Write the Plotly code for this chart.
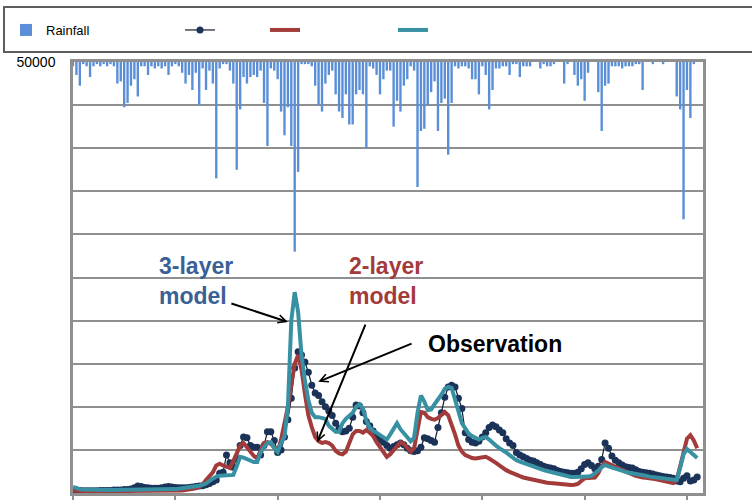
import plotly.graph_objects as go

# ---- data (day index from start of record) ----
days = list(range(184))

rainfall_mm = [
    2, 6, 11, 1, 2, 7, 2, 1, 2, 1,
    2, 1, 2, 10, 9, 21, 19, 11, 8, 16,
    2, 2, 6, 2, 3, 2, 3, 2, 6, 2,
    1, 2, 5, 10, 6, 13, 5, 20, 3, 13,
    4, 10, 54, 3, 1, 1, 4, 10, 50, 22,
    7, 10, 7, 6, 7, 4, 19, 39, 3, 4,
    8, 23, 34, 21, 39, 88, 51, 1, 1, 1,
    2, 11, 20, 23, 10, 6, 4, 15, 23, 26,
    15, 29, 29, 15, 13, 15, 40, 2, 3, 6,
    15, 8, 4, 4, 30, 18, 23, 11, 8, 2,
    4, 58, 32, 31, 20, 14, 9, 32, 19, 17,
    43, 19, 2, 3, 2, 2, 3, 8, 8, 15,
    2, 6, 22, 13, 3, 3, 2, 2, 6, 1,
    1, 7, 2, 2, 2, 0, 0, 3, 1, 2,
    2, 1, 0, 0, 10, 1, 0, 6, 11, 8,
    18, 5, 0, 0, 14, 32, 11, 10, 2, 2,
    2, 3, 2, 2, 2, 1, 1, 13, 0, 0,
    1, 0, 0, 1, 0, 0, 0, 16, 22, 73,
    13, 26, 1, 0,
]

observation = [
    250, 350, 300, 250, 250, 250, 250, 250, 300, 300,
    300, 300, 350, 350, 350, 400, 400, 450, 600, 800,
    750, 650, 600, 550, 550, 550, 600, 700, 750, 700,
    650, 600, 600, 600, 650, 700, 750, 800, 850, 950,
    1100, 1300, 1500, 2300, 2400, 4400, 3500, 3000, 4000, 5500,
    6500, 6400, 5500, 5300, 5300, 4400, 5500, 7100, 7100, 6100,
    4700, 5000, 6500, 8500, 11000, 14500, 16400, 16000, 15200, 14000,
    12500, 11600, 11300, 10600, 10000, 9500, 9000, 8100, 7500, 7100,
    7200, 7500, 8800, 10200, 10100, 9300, 8300, 7800, 7200, 6500,
    6200, 5900, 5500, 5200, 5400, 5600, 5800, 5600, 5200, 4900,
    4800, 4900, 5300, 6400, 6300, 6100, 5900, 7600, 9300, 11100,
    12300, 12500, 12300, 11000, 9800, 7000, 6200, 5900, 5800, 6000,
    6500, 7000, 7600, 7900, 7700, 7300, 7000, 6300, 5800, 5500,
    4700, 4400, 4200, 4000, 3800, 3700, 3500, 3300, 3100, 3000,
    2900, 2800, 2600, 2500, 2400, 2350, 2300, 2300, 2400, 2800,
    3300, 3500, 3200, 2800, 3100, 3900, 5800, 5200, 4300, 3800,
    3500, 3250, 3050, 2950, 2900, 2700, 2500, 2400, 2350, 2300,
    2200, 2100, 2000, 1900, 1850, 1800, 1700, 1400, 1300, 1700,
    2000, 1400, 1500, 1850,
]

two_layer = [
    300, 250, 200, 200, 200, 200, 200, 200, 200, 200,
    200, 200, 200, 200, 200, 200, 200, 200, 200, 200,
    250, 250, 250, 250, 250, 250, 250, 250, 250, 250,
    300, 300, 300, 350, 400, 450, 550, 700, 1000, 1500,
    2000, 2400, 3200, 3400, 3200, 3100, 2900, 3700, 4600, 5500,
    5800, 5300, 4800, 4300, 4000, 5000, 5800, 5900, 5700, 5300,
    4750, 6200, 8000, 10000, 12500, 15000, 16000, 14300, 11500, 9000,
    7650, 6500, 6000, 5800, 5900, 5800, 5500, 4900, 4600, 4500,
    4800, 5800, 6800, 7200, 7200, 7000, 7300, 7000, 6600, 5900,
    5300, 4700, 4200, 4500, 5000, 5400, 5900, 5700, 5300, 4800,
    5200, 7300, 9400, 9300, 8800, 8600, 8500, 8700, 9000, 9400,
    9000, 8000, 6800, 5500, 4800, 4400, 4200, 4050, 4000, 4050,
    4150, 4200, 4000, 3800, 3500, 3200, 2900, 2650, 2450, 2250,
    2100, 1950, 1800, 1700, 1600, 1500, 1450, 1350, 1300, 1200,
    1150, 1100, 1050, 1000, 950, 930, 930, 950, 1050, 1400,
    1700, 1750, 1750, 1800, 2300, 3100, 3600, 3450, 3250, 3050,
    2850, 2650, 2450, 2300, 2150, 2000, 1860, 1800, 1780, 1750,
    1700, 1600, 1500, 1400, 1300, 1200, 1160, 1500, 3200, 4800,
    6300, 6700, 6100, 5200,
]

three_layer = [
    700, 550, 450, 400, 380, 350, 350, 350, 350, 350,
    350, 350, 350, 350, 350, 350, 350, 350, 350, 350,
    350, 400, 400, 400, 400, 400, 400, 400, 400, 400,
    450, 500, 550, 580, 620, 680, 750, 850, 950, 1100,
    1400, 1700, 1900, 2000, 2000, 2000, 2000, 2100, 3100, 4200,
    4100, 3900, 3800, 3600, 3600, 4700, 5300, 5800, 5900, 5200,
    4750, 5800, 6500, 10000, 20000, 23300, 21000, 16000, 13000, 10800,
    9300, 8800, 8800, 8700, 8600, 7800, 7500, 7100, 7100, 8100,
    8600, 9000, 9300, 10000, 10300, 9800, 8400, 7600, 7200, 7000,
    6700, 6400, 6200, 6800, 7500, 8100, 7400, 6900, 6500, 6000,
    6400, 9300, 11300, 10600, 9600, 9700, 10300, 10800, 11400, 12100,
    12300, 12200, 11000, 9500, 8100, 7400, 6900, 6600, 6400, 6200,
    6400, 6500, 6200, 5800, 5500, 5200, 5000, 4700, 4400, 4100,
    3800, 3650, 3500, 3300, 3150, 3000, 2900, 2800, 2650, 2550,
    2450, 2350, 2250, 2100, 2000, 1900, 1850, 1850, 1850, 1850,
    1850, 1900, 2000, 2250, 2600, 3000, 3250, 3100, 2950, 2800,
    2650, 2550, 2450, 2350, 2300, 2200, 2150, 2100, 2000, 1900,
    1850, 1800, 1750, 1700, 1600, 1550, 1500, 1500, 2900, 4500,
    5100, 4800, 4400, 4050,
]

y_ticks = [0, 5000, 10000, 15000, 20000, 25000, 30000, 35000, 40000, 45000, 50000]
y_tick_text = ["", "", "", "", "", "", "", "", "", "", "50000"]
x_ticks = [0, 30, 60, 90, 120, 150, 180]

# ---- figure ----
W, H = 752, 500
ML, MR, MT, MB = 73, 49, 62, 7
PW, PH = W - ML - MR, H - MT - MB


def px_x(p):
    return (p - ML) / PW


def px_y(p):
    return (H - MB - p) / PH


GRID = "#8f8f8f"
fig = go.Figure()

fig.add_trace(go.Bar(
    x=days, y=rainfall_mm, yaxis="y2", name="Rainfall",
    marker=dict(color="#5A8FD8", line=dict(width=0)),
    legend="legend",
))
fig.add_trace(go.Scatter(
    x=days, y=observation, name="", mode="lines+markers",
    line=dict(color="#111a2c", width=1.2),
    marker=dict(color="#1b3358", size=7, line=dict(width=0)),
    legend="legend2",
))
fig.add_trace(go.Scatter(
    x=days, y=two_layer, name="", mode="lines",
    line=dict(color="#a33b3b", width=4),
    legend="legend3",
))
fig.add_trace(go.Scatter(
    x=days, y=three_layer, name="", mode="lines",
    line=dict(color="#3890a3", width=4),
    legend="legend4",
))

leg_font = dict(family="Liberation Sans Narrow, Arial Narrow, Liberation Sans, Arial", size=13, color="#000")
leg_y = px_y(30)
common_leg = dict(orientation="h", yanchor="middle", y=leg_y, xanchor="left",
                  bgcolor="rgba(0,0,0,0)", borderwidth=0, font=leg_font)

fig.update_layout(
    width=W, height=H,
    margin=dict(l=ML, r=MR, t=MT, b=MB, pad=0, autoexpand=False),
    paper_bgcolor="white", plot_bgcolor="white",
    font=dict(family="Liberation Sans, Arial", color="#000"),
    bargap=0.3,
    showlegend=True,
    legend=dict(common_leg, x=px_x(6)),
    legend2=dict(common_leg, x=px_x(180)),
    legend3=dict(common_leg, x=px_x(265)),
    legend4=dict(common_leg, x=px_x(393)),
    xaxis=dict(
        range=[0, 184.7], tickvals=x_ticks, showticklabels=False,
        ticks="outside", ticklen=6, tickwidth=2, tickcolor=GRID,
        showgrid=False, zeroline=False,
        showline=True, linecolor=GRID, linewidth=2.5, mirror=True,
    ),
    yaxis=dict(
        range=[0, 50000], tickvals=y_ticks, ticktext=y_tick_text,
        ticks="", showgrid=True, gridcolor=GRID, gridwidth=2,
        zeroline=False, showline=True, linecolor=GRID, linewidth=2.5, mirror=True,
        tickfont=dict(family="Liberation Sans, Arial", size=14, color="#000"),
        ticklabelstandoff=12,
    ),
    yaxis2=dict(
        overlaying="y", side="right", range=[200, 0],
        showgrid=False, zeroline=False, showline=False,
        showticklabels=False, ticks="",
    ),
)

# legend frame
fig.add_shape(type="rect", xref="paper", yref="paper",
              x0=px_x(4), x1=px_x(770), y0=px_y(52), y1=px_y(7),
              line=dict(color="#5e5e5e", width=2), fillcolor="rgba(0,0,0,0)", layer="above")

# labels
lab_font = dict(family="Liberation Sans, Arial", size=23)
fig.add_annotation(x=24.6, y=24600, xref="x", yref="y", text="<b>3-layer<br>model</b>",
                   showarrow=False, xanchor="left", yanchor="middle", align="left",
                   font=dict(lab_font, color="#3a6196"))
fig.add_annotation(x=80.4, y=24600, xref="x", yref="y", text="<b>2-layer<br>model</b>",
                   showarrow=False, xanchor="left", yanchor="middle", align="left",
                   font=dict(lab_font, color="#a33b3b"))
fig.add_annotation(x=103.6, y=17300, xref="x", yref="y", text="<b>Observation</b>",
                   showarrow=False, xanchor="left", yanchor="middle", align="left",
                   font=dict(lab_font, color="#000"))

# arrows
arrow_style = dict(showarrow=True, arrowhead=5, arrowsize=0.8, arrowwidth=2,
                   arrowcolor="#000", text="", xref="x", yref="y", axref="x", ayref="y")
fig.add_annotation(x=63.0, y=19840, ax=46.0, ay=22040, **arrow_style)
fig.add_annotation(x=71.6, y=5900, ax=85.9, ay=19720, **arrow_style)
fig.add_annotation(x=71.9, y=12900, ax=99.7, ay=17400, **arrow_style)

fig.write_html(
    "out.html",
    config={"displayModeBar": False},
    post_script="document.body.style.margin='0';document.body.style.padding='0';",
)
